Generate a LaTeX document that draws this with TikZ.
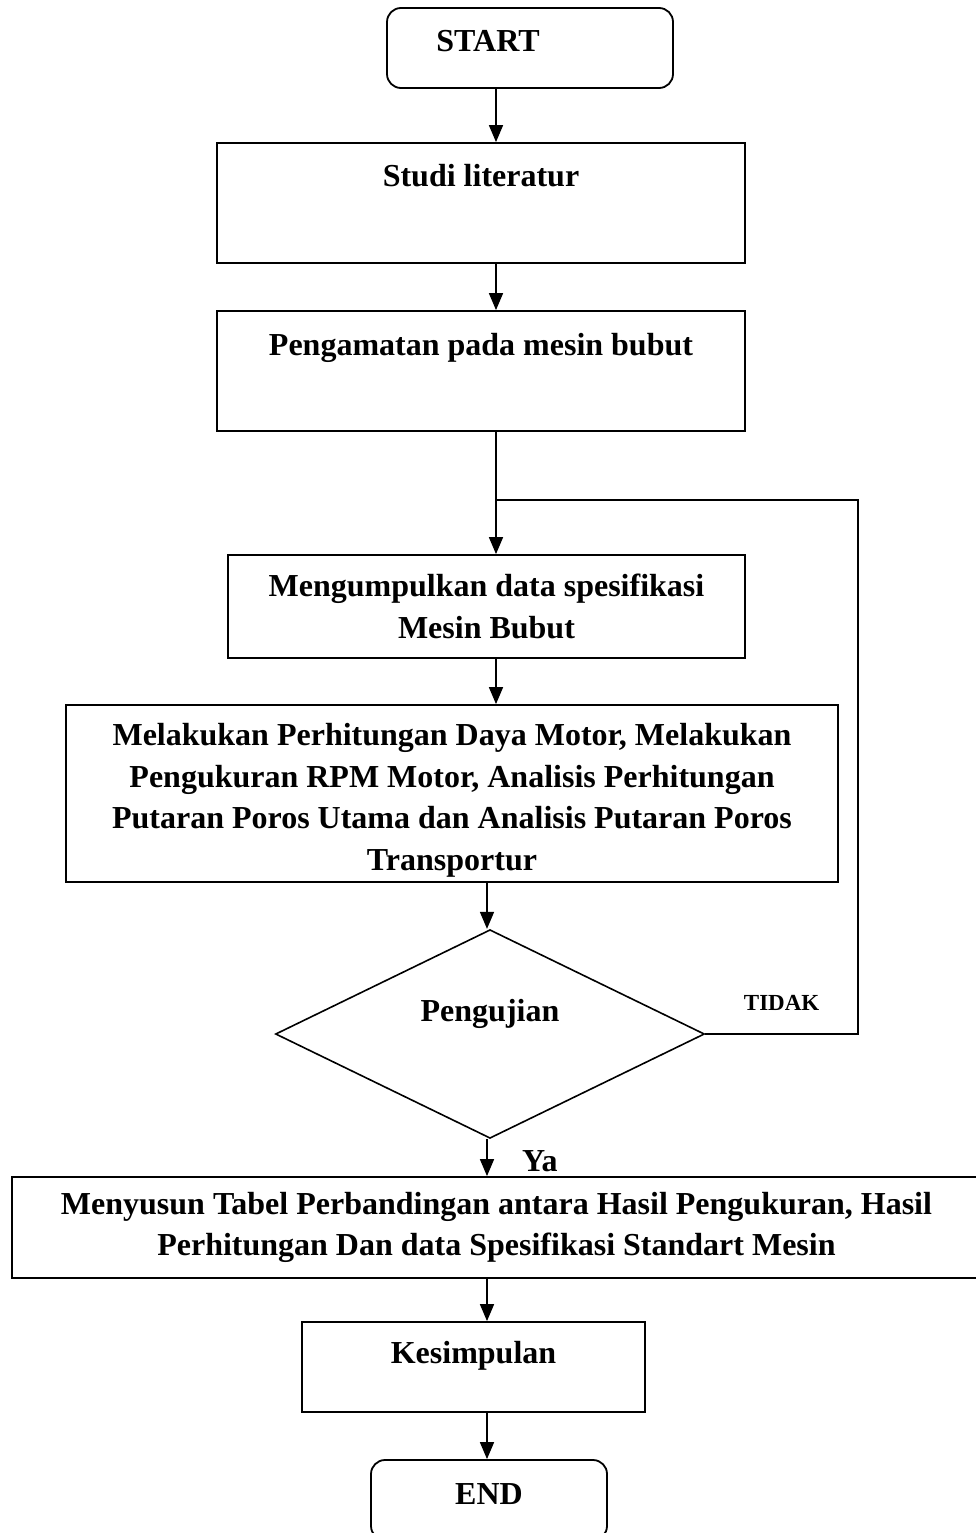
\documentclass[tikz,border=0pt]{standalone}
\usepackage{fontspec}
\setmainfont{Liberation Serif}
\usetikzlibrary{arrows.meta,shapes.geometric}

\begin{document}
\begin{tikzpicture}[x=1pt, y=-1pt,
        every node/.style={font=\bfseries\fontsize{32}{41.5}\selectfont},
        process/.style={draw, rectangle, line width=1.8pt, align=center},
        terminal/.style={process, rounded corners=14pt},
        decision/.style={draw, diamond, line width=1.6pt, inner sep=0pt},
        arrow/.style={draw, line width=1.6pt, -{Triangle[length=17pt,width=14pt]}},
        line/.style={draw, line width=1.6pt}]
        \clip (0,0) rectangle (976,1533);

        \node[terminal, minimum width=286pt, minimum height=80pt, text height=22pt, text depth=14pt] (mulai) at (530,48) {START\hspace*{84pt}};
        \node[process, minimum width=528pt, minimum height=120pt, text height=22pt, text depth=54pt] (studi) at (481,203) {Studi literatur};
        \node[process, minimum width=528pt, minimum height=120pt, text height=22pt, text depth=54pt] (amati) at (481,371) {Pengamatan pada mesin bubut};
        \node[process, minimum width=517pt, minimum height=103pt] (data) at (486.5,606.5) {Mengumpulkan data spesifikasi\\Mesin Bubut};
        \node[process, minimum width=772pt, minimum height=177pt] (hitung) at (452,793.5) {\rule{0pt}{36pt}Melakukan Perhitungan Daya Motor, Melakukan\\Pengukuran RPM Motor, Analisis Perhitungan\\Putaran Poros Utama dan Analisis Putaran Poros\\Transportur};
        \node[decision, minimum width=429pt, minimum height=196pt, text height=22pt, text depth=48pt] (uji) at (490,1034) {Pengujian};
        \node[process, minimum width=969pt, minimum height=101pt] (tabel) at (496.5,1227.5) {Menyusun Tabel Perbandingan antara Hasil Pengukuran, Hasil\\Perhitungan Dan data Spesifikasi Standart Mesin};
        \node[process, minimum width=343pt, minimum height=90pt, text height=22pt, text depth=30pt] (simpul) at (473.5,1367) {Kesimpulan};
        \node[terminal, minimum width=236pt, minimum height=80pt, text height=22pt, text depth=14pt] (selesai) at (489,1500) {END};

        \coordinate (atas) at (496,0);
        \coordinate (bawah) at (487,0);
        \coordinate (kanan) at (858,0);
        \coordinate (temu) at (496,500);

        \path[arrow] (mulai.south -| atas) -- (studi.north -| atas);
        \path[arrow] (studi.south -| atas) -- (amati.north -| atas);
        \path[arrow] (amati.south -| atas) -- (data.north -| atas);
        \path[arrow] (data.south -| atas) -- (hitung.north -| atas);
        \path[arrow] (hitung.south -| bawah) -- (uji.north -| bawah);
        \path[arrow] (uji.south -| bawah) -- node[pos=0.88, anchor=base west, xshift=31pt] {Ya} (tabel.north -| bawah);
        \path[arrow] (tabel.south -| bawah) -- (simpul.north -| bawah);
        \path[arrow] (simpul.south -| bawah) -- (selesai.north -| bawah);
        \path[line] (uji.east) -- node[midway, anchor=base, yshift=24pt, font=\bfseries\fontsize{23}{28}\selectfont] {TIDAK} (uji.east -| kanan) |- (temu);
\end{tikzpicture}
\end{document}
